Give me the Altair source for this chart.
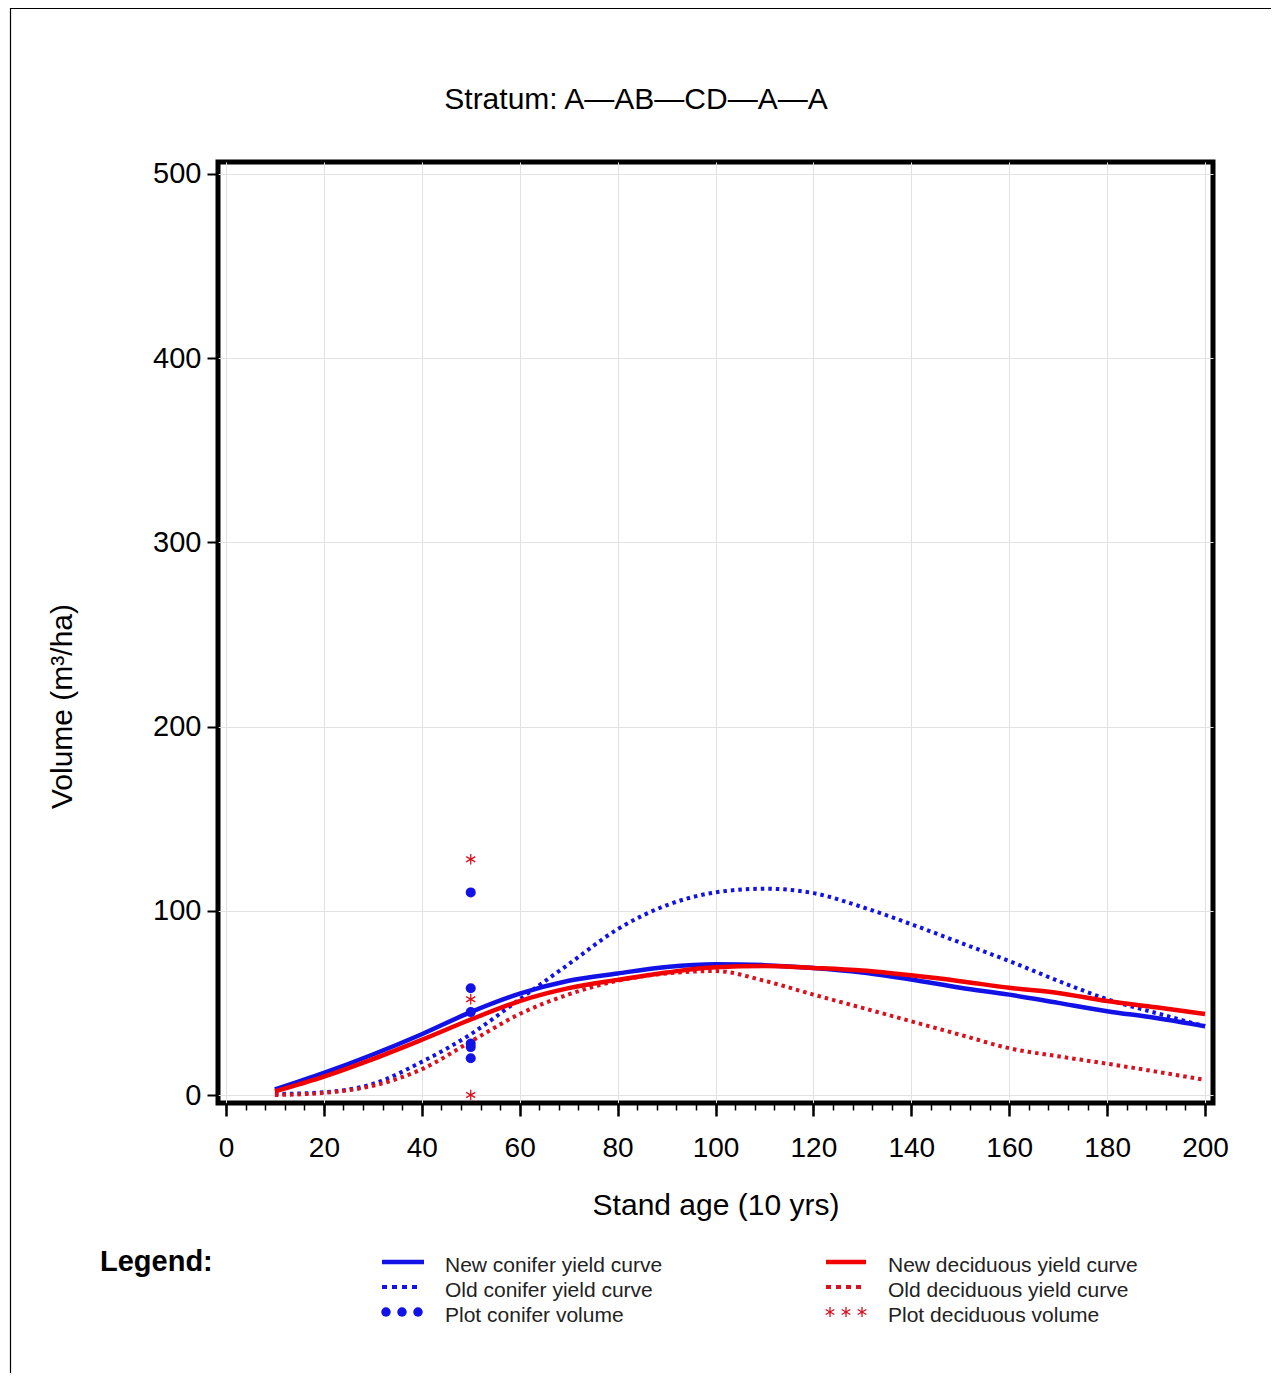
import altair as alt
import pandas as pd

# ---------------- data ----------------
ages = [10, 20, 30, 40, 50, 60, 70, 80, 90, 100,
        110, 120, 130, 140, 150, 160, 170, 180, 190, 200]
new_conifer = [3, 12, 22, 33, 45, 55, 62, 66, 69.5, 71,
               70.5, 69, 66.5, 62.7, 58.2, 54.5, 50, 45.5, 41.8, 37.3]
old_conifer = [0.5, 1.5, 6, 18, 33, 52, 71, 90, 103, 110,
               112, 109.6, 102, 92.7, 82.7, 72.7, 62, 52, 44.5, 37.3]
new_deciduous = [2, 10, 19.5, 30, 41, 51, 58, 62.5, 66.5, 69.4,
                 70, 69, 67.6, 65, 61.8, 58.2, 55.4, 51, 47.6, 44]
old_deciduous = [0, 1.2, 5, 14, 29, 44, 54.6, 62, 66, 67.3,
                 62, 54.5, 47.3, 40, 32.7, 25.4, 21, 17, 12.7, 8.2]

plot_age = 50
plot_conifer = [110, 58, 45, 28, 26, 20]
plot_deciduous = [128, 52, 0]

title_text = "Stratum: A\u2014AB\u2014CD\u2014A\u2014A"
x_title = "Stand age (10 yrs)"
y_title = "Volume (m\u00b3/ha)"
x_ticks = list(range(0, 201, 20))
x_minor = list(range(0, 201, 4))
y_ticks = list(range(0, 501, 100))

legend_labels = [
    "New conifer yield curve", "Old conifer yield curve", "Plot conifer volume",
    "New deciduous yield curve", "Old deciduous yield curve", "Plot deciduous volume",
]

BLUE = "#1212e6"
RED = "#f20000"
DRED = "#d9101e"
FONT = "Liberation Sans"
ASTER = "M0,-1L0,1M-0.866,-0.5L0.866,0.5M-0.866,0.5L0.866,-0.5"

curves = pd.DataFrame({
    "age": ages,
    "new_con": new_conifer,
    "old_con": old_conifer,
    "new_dec": new_deciduous,
    "old_dec": old_deciduous,
})
pts_con = pd.DataFrame({"age": [plot_age] * len(plot_conifer), "vol": plot_conifer})
pts_dec = pd.DataFrame({"age": [plot_age] * len(plot_deciduous), "vol": plot_deciduous})

xscale = alt.Scale(domain=[-1.63, 201.63], nice=False, zero=False)
yscale = alt.Scale(domain=[-4.34, 506.5], nice=False, zero=False)

main_x_axis = alt.Axis(values=x_ticks, title=x_title, grid=True, gridColor="#e2e2e2",
                       gridWidth=1, domain=False, tickColor="black", tickWidth=2.5,
                       tickSize=13, labelFontSize=28, labelPadding=18, labelColor="black",
                       titleFontSize=30, titleFontWeight="normal", titleColor="black",
                       titlePadding=28, labelFont=FONT, titleFont=FONT)
minor_x_axis = alt.Axis(values=x_minor, labels=False, title=None, grid=False, domain=False,
                        tickColor="black", tickWidth=1.5, tickSize=7, orient="bottom")
y_axis = alt.Axis(values=y_ticks, title=y_title, grid=True, gridColor="#e2e2e2", gridWidth=1,
                  domain=False, tickColor="black", tickWidth=2, tickSize=11,
                  labelFontSize=29, labelPadding=6, labelColor="black",
                  titleFontSize=30, titleFontWeight="normal", titleColor="black",
                  titleX=-156, titleY=544, titleAlign="center", titleBaseline="middle",
                  labelFont=FONT, titleFont=FONT)


def curve(field, color, dashed, axis_x=None, axis_y=None):
    kw = dict(color=color, strokeWidth=4.5, interpolate="monotone", strokeCap="butt")
    if dashed:
        kw.update(strokeDash=[3.5, 4], strokeWidth=4)
    return alt.Chart(curves).mark_line(**kw).encode(
        x=alt.X("age:Q", scale=xscale, axis=axis_x),
        y=alt.Y(f"{field}:Q", scale=yscale, axis=axis_y),
    )


base_layers = [
    curve("old_con", BLUE, True, axis_x=main_x_axis, axis_y=y_axis),
    curve("old_dec", DRED, True),
    curve("new_con", BLUE, False),
    curve("new_dec", RED, False),
    # minor ticks axis (invisible mark)
    alt.Chart(curves).mark_line(opacity=0).encode(
        x=alt.X("age:Q", scale=xscale, axis=minor_x_axis),
        y=alt.Y("new_con:Q", scale=yscale, axis=None),
    ),
    alt.Chart(pts_con).mark_point(filled=True, shape="circle", size=100, color=BLUE, opacity=1).encode(
        x=alt.X("age:Q", scale=xscale, axis=None),
        y=alt.Y("vol:Q", scale=yscale, axis=None),
    ),
    alt.Chart(pts_dec).mark_point(
        filled=False, size=110, color=DRED, strokeWidth=1.3, opacity=1, shape=ASTER,
    ).encode(
        x=alt.X("age:Q", scale=xscale, axis=None),
        y=alt.Y("vol:Q", scale=yscale, axis=None),
    ),
]

one = pd.DataFrame({"t": [""]})
deco = []

# title
deco.append(alt.Chart(pd.DataFrame({"t": [title_text]})).mark_text(
    fontSize=30, font=FONT, color="black", align="center", baseline="middle").encode(
    text="t:N", x=alt.value(418), y=alt.value(-62)))

# outer border
deco.append(alt.Chart(one).mark_rect(fillOpacity=0, stroke="black", strokeWidth=1.2).encode(
    x=alt.value(-207.5), x2=alt.value(1080), y=alt.value(-153.5), y2=alt.value(1260)))

# "Legend:"
deco.append(alt.Chart(pd.DataFrame({"t": ["Legend:"]})).mark_text(
    fontSize=29, font=FONT, fontWeight="bold", color="black", align="left", baseline="middle").encode(
    text="t:N", x=alt.value(-118), y=alt.value(1100)))

rows_y = [1104, 1129, 1154]
cols = [(164, 206, 227, BLUE, BLUE), (608, 648, 670, RED, DRED)]
for ci, (lx0, lx1, tx, c_solid, c_dot) in enumerate(cols):
    deco.append(alt.Chart(one).mark_rule(color=c_solid, strokeWidth=4.5).encode(
        x=alt.value(lx0), x2=alt.value(lx1), y=alt.value(rows_y[0] - 4)))
    deco.append(alt.Chart(one).mark_rule(color=c_dot, strokeWidth=4, strokeDash=[5, 5]).encode(
        x=alt.value(lx0), x2=alt.value(lx1 - 2), y=alt.value(rows_y[1] - 4)))
    for k in range(3):
        px = lx0 + 4 + k * 16
        if ci == 0:
            deco.append(alt.Chart(one).mark_point(filled=True, shape="circle", size=90,
                                                  color=BLUE, opacity=1).encode(
                x=alt.value(px), y=alt.value(rows_y[2] - 4)))
        else:
            deco.append(alt.Chart(one).mark_point(
                filled=False, size=100, color=DRED, strokeWidth=1.3, opacity=1,
                shape=ASTER).encode(
                x=alt.value(px), y=alt.value(rows_y[2] - 4)))
    for ri in range(3):
        deco.append(alt.Chart(pd.DataFrame({"t": [legend_labels[ci * 3 + ri]]})).mark_text(
            fontSize=21, font=FONT, color="#222222", align="left", baseline="middle").encode(
            text="t:N", x=alt.value(tx), y=alt.value(rows_y[ri])))

chart = alt.layer(*base_layers, *deco).resolve_axis(x="independent", y="independent").properties(
    width=995, height=941,
    padding={"left": 210, "top": 154, "right": 58, "bottom": 270},
    autosize=alt.AutoSizeParams(type="none"),
    background="white",
).configure_view(stroke="black", strokeWidth=5)

chart.save("out.html", embed_options={"renderer": "svg", "actions": False})
